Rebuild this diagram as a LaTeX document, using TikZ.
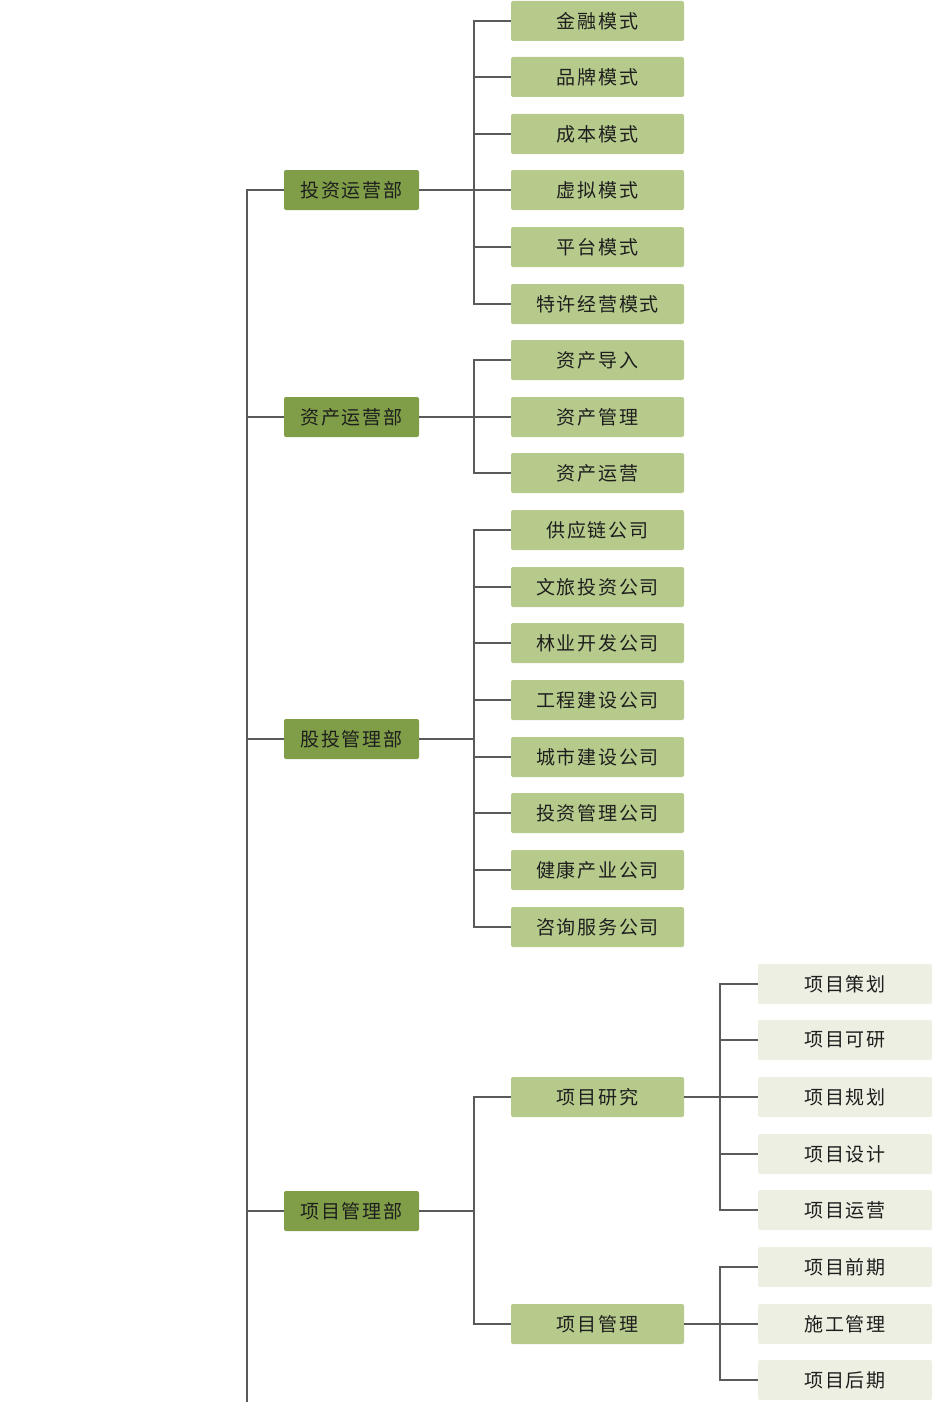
\documentclass[tikz,border=0pt]{standalone}
\usepackage{fontspec}
\setmainfont{Noto Sans CJK SC}
\newfontfamily\boxfont[LetterSpace=9]{Noto Sans CJK SC}
\definecolor{lvA}{HTML}{7F9E47}
\definecolor{lvB}{HTML}{B6CA8C}
\definecolor{lvC}{HTML}{ECEFE1}
\definecolor{lineC}{HTML}{5A5A5A}
\definecolor{txt}{HTML}{1E1E1E}
\begin{document}
\begin{tikzpicture}[x=1pt,y=-1pt,
  box/.style={rounded corners=2pt, inner sep=0pt, minimum height=40pt, text=txt, font=\boxfont\fontsize{19}{22}\selectfont},
  boxA/.style={box, fill=lvA, minimum width=135pt},
  boxB/.style={box, fill=lvB, minimum width=173pt},
  boxC/.style={box, fill=lvC, minimum width=174pt},
  conn/.style={draw=lineC, line width=1.8pt}]
\useasboundingbox (0,0) rectangle (932,1402);
% buses
\coordinate (trunk) at (247,1402);
\coordinate (busB) at (474,0);
\coordinate (busC) at (720,0);
% level 1
\node[boxA] (a1) at (351.5,190) {投资运营部};
\node[boxA] (a2) at (351.5,417) {资产运营部};
\node[boxA] (a3) at (351.5,739) {股投管理部};
\node[boxA] (a4) at (351.5,1211) {项目管理部};
% level 2
\node[boxB] (b1) at (597.5,21) {金融模式};
\node[boxB] (b2) at (597.5,77) {品牌模式};
\node[boxB] (b3) at (597.5,134) {成本模式};
\node[boxB] (b4) at (597.5,190) {虚拟模式};
\node[boxB] (b5) at (597.5,247) {平台模式};
\node[boxB] (b6) at (597.5,304) {特许经营模式};
\node[boxB] (b7) at (597.5,360) {资产导入};
\node[boxB] (b8) at (597.5,417) {资产管理};
\node[boxB] (b9) at (597.5,473) {资产运营};
\node[boxB] (b10) at (597.5,530) {供应链公司};
\node[boxB] (b11) at (597.5,587) {文旅投资公司};
\node[boxB] (b12) at (597.5,643) {林业开发公司};
\node[boxB] (b13) at (597.5,700) {工程建设公司};
\node[boxB] (b14) at (597.5,757) {城市建设公司};
\node[boxB] (b15) at (597.5,813) {投资管理公司};
\node[boxB] (b16) at (597.5,870) {健康产业公司};
\node[boxB] (b17) at (597.5,927) {咨询服务公司};
\node[boxB] (b18) at (597.5,1097) {项目研究};
\node[boxB] (b19) at (597.5,1324) {项目管理};
% level 3
\node[boxC] (c1) at (845,984) {项目策划};
\node[boxC] (c2) at (845,1040) {项目可研};
\node[boxC] (c3) at (845,1097) {项目规划};
\node[boxC] (c4) at (845,1154) {项目设计};
\node[boxC] (c5) at (845,1210) {项目运营};
\node[boxC] (c6) at (845,1267) {项目前期};
\node[boxC] (c7) at (845,1324) {施工管理};
\node[boxC] (c8) at (845,1380) {项目后期};
% trunk connectors
\foreach \n in {a1,a2,a3,a4} \draw[conn] (trunk) |- (\n.west);
% level1 -> level2
\foreach \n in {b1,b2,b3,b4,b5,b6} \draw[conn] (a1.east) -- (a1.east -| busB) |- (\n.west);
\foreach \n in {b7,b8,b9} \draw[conn] (a2.east) -- (a2.east -| busB) |- (\n.west);
\foreach \n in {b10,b11,b12,b13,b14,b15,b16,b17} \draw[conn] (a3.east) -- (a3.east -| busB) |- (\n.west);
\foreach \n in {b18,b19} \draw[conn] (a4.east) -- (a4.east -| busB) |- (\n.west);
% level2 -> level3
\foreach \n in {c1,c2,c3,c4,c5} \draw[conn] (b18.east) -- (b18.east -| busC) |- (\n.west);
\foreach \n in {c6,c7,c8} \draw[conn] (b19.east) -- (b19.east -| busC) |- (\n.west);
\end{tikzpicture}
\end{document}
